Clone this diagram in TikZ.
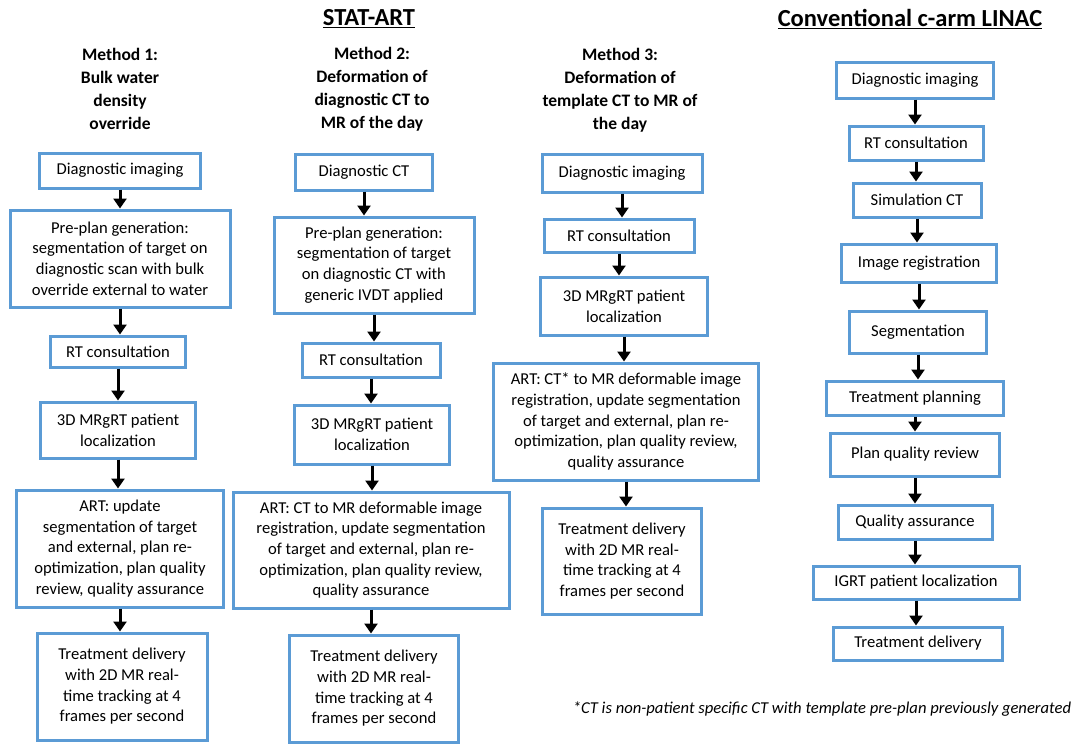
\documentclass[tikz,border=0pt]{standalone}
\usepackage{fontspec}
\setmainfont{Carlito}
\usepackage{tikz}
\usetikzlibrary{arrows.meta}
\definecolor{boxblue}{RGB}{91,155,213}
\tikzset{
  stage/.style={draw=boxblue, line width=3pt, fill=white, align=center, inner sep=2pt,
    font=\fontsize{16.6}{20.7}\selectfont},
  flow/.style={line width=3pt, -{Triangle[width=13pt,length=10pt]}},
  method/.style={align=center, font=\bfseries\fontsize{17.5}{23}\selectfont},
  heading/.style={font=\bfseries\fontsize{24.5}{29}\selectfont}
}

\begin{document}
\begin{tikzpicture}[x=1pt, y=-1pt]
                \useasboundingbox (0,0) rectangle (1084,750);
                \node[heading] (statart) at (369,19) {\underline{STAT-ART}};
                \node[heading] (linac) at (910,19) {\underline{Conventional c-arm LINAC}};
                \node[method] (m1) at (120,89) {Method 1:\\Bulk water\\density\\override};
                \node[method] (m2) at (372,89) {Method 2:\\Deformation of\\diagnostic CT to\\MR of the day};
                \node[method] (m3) at (620,90) {Method 3:\\Deformation of\\template CT to MR of\\the day};

                \node[stage, minimum width=161, minimum height=35] (d1) at (120,170.5) {Diagnostic imaging};
                \node[stage, minimum width=220, minimum height=97] (p1) at (120,258.5) {Pre-plan generation:\\segmentation of target on\\diagnostic scan with bulk\\override external to water};
                \node[stage, minimum width=135, minimum height=31] (r1) at (118,351.5) {RT consultation};
                \node[stage, minimum width=155, minimum height=56] (l1) at (118,430) {3D MRgRT patient\\localization};
                \node[stage, minimum width=207, minimum height=117] (a1) at (120,548.5) {ART: update\\segmentation of target\\and external, plan re-\\optimization, plan quality\\review, quality assurance};
                \node[stage, minimum width=170, minimum height=107] (t1) at (122,686.5) {Treatment delivery\\with 2D MR real-\\time tracking at 4\\frames per second};

                \node[stage, minimum width=137, minimum height=36] (d2) at (364,172) {Diagnostic CT};
                \node[stage, minimum width=200, minimum height=96] (p2) at (374,265) {Pre-plan generation:\\segmentation of target\\on diagnostic CT with\\generic IVDT applied};
                \node[stage, minimum width=138, minimum height=34] (r2) at (371,360) {RT consultation};
                \node[stage, minimum width=155, minimum height=59] (l2) at (372,434.5) {3D MRgRT patient\\localization};
                \node[stage, minimum width=276, minimum height=116] (a2) at (371,550) {ART: CT to MR deformable image\\registration, update segmentation\\of target and external, plan re-\\optimization, plan quality review,\\quality assurance};
                \node[stage, minimum width=169, minimum height=107] (t2) at (374,688.5) {Treatment delivery\\with 2D MR real-\\time tracking at 4\\frames per second};

                \node[stage, minimum width=160, minimum height=38] (d3) at (622,173) {Diagnostic imaging};
                \node[stage, minimum width=150, minimum height=33] (r3) at (619,235.5) {RT consultation};
                \node[stage, minimum width=167, minimum height=58] (l3) at (624,306) {3D MRgRT patient\\localization};
                \node[stage, minimum width=265, minimum height=117] (a3) at (626,421.5) {ART: CT* to MR deformable image\\registration, update segmentation\\of target and external, plan re-\\optimization, plan quality review,\\quality assurance};
                \node[stage, minimum width=159, minimum height=106] (t3) at (622,561) {Treatment delivery\\with 2D MR real-\\time tracking at 4\\frames per second};

                \node[stage, minimum width=157, minimum height=36] (d4) at (915,80) {Diagnostic imaging};
                \node[stage, minimum width=134, minimum height=34] (r4) at (916,143) {RT consultation};
                \node[stage, minimum width=128, minimum height=34] (s4) at (917,200) {Simulation CT};
                \node[stage, minimum width=155, minimum height=38] (i4) at (919,263) {Image registration};
                \node[stage, minimum width=137, minimum height=42] (g4) at (918,332) {Segmentation};
                \node[stage, minimum width=177, minimum height=34] (n4) at (915,398) {Treatment planning};
                \node[stage, minimum width=169, minimum height=43] (q4) at (915,454.5) {Plan quality review};
                \node[stage, minimum width=154, minimum height=34] (a4) at (915,522) {Quality assurance};
                \node[stage, minimum width=206, minimum height=33] (c4) at (916,582.5) {IGRT patient localization};
                \node[stage, minimum width=169, minimum height=33] (t4) at (918,643.5) {Treatment delivery};

                \node[font=\itshape\fontsize{16.6}{20.7}\selectfont] (note) at (822,709) {*CT is non-patient specific CT with template pre-plan previously generated};

                \foreach \a/\b in {d1/p1, p1/r1, r1/l1, l1/a1, a1/t1,
                                   d2/p2, p2/r2, r2/l2, l2/a2, a2/t2,
                                   d3/r3, r3/l3, l3/a3, a3/t3,
                                   d4/r4, r4/s4, s4/i4, i4/g4, g4/n4, n4/q4, q4/a4, a4/c4, c4/t4}
                    \draw[flow] (\a.south) -- (\a.south |- \b.north);
            \end{tikzpicture}
\end{document}
